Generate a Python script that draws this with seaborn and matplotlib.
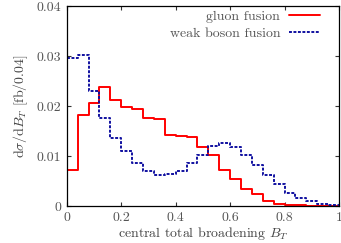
import matplotlib
matplotlib.use("Agg")
import matplotlib.pyplot as plt
import numpy as np
import pandas as pd
import seaborn as sns

# bin edges 0..1 step 0.04
bordes = np.round(np.arange(0, 1.0001, 0.04), 2)
centros = (bordes[:-1] + bordes[1:]) / 2

gluon = [0.0072, 0.0183, 0.0207, 0.0239, 0.0213, 0.0199, 0.0195, 0.0177,
         0.0175, 0.0143, 0.0141, 0.0139, 0.0119, 0.0102, 0.0072, 0.0055,
         0.0034, 0.0025, 0.0011, 0.0005, 0.0003, 0.0002, 0.0001, 0.0001, 0.0000]
weak = [0.0297, 0.0302, 0.0230, 0.0177, 0.0137, 0.0110, 0.0087, 0.0070,
        0.0062, 0.0065, 0.0071, 0.0087, 0.0102, 0.0121, 0.0127, 0.0119,
        0.0102, 0.0083, 0.0062, 0.0045, 0.0027, 0.0017, 0.0010, 0.0005, 0.0002]

df = pd.DataFrame({'BT': np.concatenate([centros, centros]),
                   'w': np.concatenate([gluon, weak]),
                   'proc': ['gluon fusion'] * 25 + ['weak boson fusion'] * 25})

sns.set_style('ticks')
plt.rcParams['font.family'] = 'cmr10'
plt.rcParams['mathtext.fontset'] = 'cm'
plt.rcParams['axes.formatter.use_mathtext'] = True
plt.rcParams['font.size'] = 10

fig = plt.figure(figsize=(3.41, 2.43), dpi=100)
ax = fig.add_axes([0.196, 0.152, 0.798, 0.823])

sns.histplot(data=df[df['proc'] == 'gluon fusion'], x='BT', weights='w',
             binwidth=0.04, binrange=(0, 1),
             element='step', fill=False, color='#ff0000', linewidth=1.4, ax=ax,
             label='gluon fusion')
sns.histplot(data=df[df['proc'] == 'weak boson fusion'], x='BT', weights='w',
             binwidth=0.04, binrange=(0, 1),
             element='step', fill=False, color='#1010a0', linewidth=1.4, ax=ax,
             linestyle=(0, (1.5, 0.8)), label='weak boson fusion')

ax.set_xlim(0, 1)
ax.set_ylim(0, 0.04)
ax.set_xticks([0, 0.2, 0.4, 0.6, 0.8, 1])
ax.set_xticklabels(['0', '0.2', '0.4', '0.6', '0.8', '1'])
ax.set_yticks([0, 0.01, 0.02, 0.03, 0.04])
ax.set_yticklabels(['0', '0.01', '0.02', '0.03', '0.04'])
ax.tick_params(direction='in', top=True, right=True, length=3, width=0.8,
               labelsize=10, colors='#333333', labelcolor='#555555', pad=4)
for s in ax.spines.values():
    s.set_linewidth(0.9)
    s.set_color('black')

ax.set_xlabel(r'central total broadening $B_T$', fontsize=10, color='#444444', labelpad=1)
ax.set_ylabel(r'$\mathrm{d}\sigma/\mathrm{d}B_T$ [fb/0.04]', fontsize=10, color='#444444', labelpad=5)

leg = ax.legend(loc='upper right', bbox_to_anchor=(0.93, 0.98), frameon=False,
                markerfirst=False, fontsize=10, borderpad=0, borderaxespad=0,
                handlelength=2.2, handletextpad=0.65, labelspacing=0.3)
for t in leg.get_texts():
    t.set_color('#555555')

fig.savefig('out.png', dpi=100)
